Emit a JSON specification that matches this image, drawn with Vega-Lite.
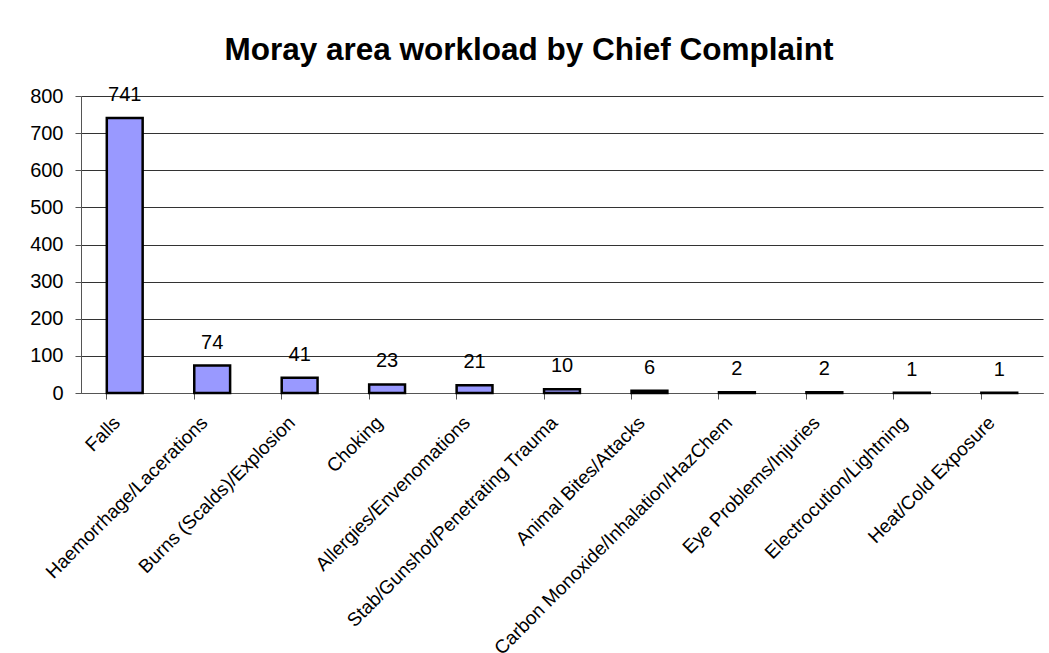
{
  "$schema": "https://vega.github.io/schema/vega-lite/v6.json",
  "width": 962,
  "height": 297,
  "autosize": {"type": "none"},
  "padding": {"left": 81, "top": 96, "right": 6, "bottom": 260},
  "background": "white",
  "title": {
    "text": "Moray area workload by Chief Complaint",
    "font": "Liberation Sans",
    "fontSize": 31.5,
    "fontWeight": "bold",
    "color": "black",
    "anchor": "middle",
    "frame": "group",
    "baseline": "alphabetic",
    "offset": 36,
    "dx": -33,
    "dy": 43
  },
  "data": {
    "values": [
      {"complaint": "Falls", "count": 741},
      {"complaint": "Haemorrhage/Lacerations", "count": 74},
      {"complaint": "Burns (Scalds)/Explosion", "count": 41},
      {"complaint": "Choking", "count": 23},
      {"complaint": "Allergies/Envenomations", "count": 21},
      {"complaint": "Stab/Gunshot/Penetrating Trauma", "count": 10},
      {"complaint": "Animal Bites/Attacks", "count": 6},
      {"complaint": "Carbon Monoxide/Inhalation/HazChem", "count": 2},
      {"complaint": "Eye Problems/Injuries", "count": 2},
      {"complaint": "Electrocution/Lightning", "count": 1},
      {"complaint": "Heat/Cold Exposure", "count": 1}
    ]
  },
  "encoding": {
    "x": {
      "field": "complaint",
      "type": "nominal",
      "sort": null,
      "scale": {"paddingInner": 0.59, "paddingOuter": 0.295},
      "axis": {
        "title": null,
        "labelAngle": -45,
        "labelAlign": "right",
        "labelBaseline": "top",
        "labelFont": "Liberation Sans",
        "labelFontSize": 19,
        "labelColor": "black",
        "labelPadding": 14,
        "labelOffset": -14,
        "labelLimit": 500,
        "bandPosition": 0,
        "tickSize": 6,
        "tickColor": "#555",
        "domainColor": "#555",
        "grid": false
      }
    },
    "y": {
      "field": "count",
      "type": "quantitative",
      "scale": {"domain": [0, 800], "nice": false},
      "axis": {
        "title": null,
        "values": [0, 100, 200, 300, 400, 500, 600, 700, 800],
        "labelFont": "Liberation Sans",
        "labelFontSize": 20,
        "labelColor": "black",
        "labelPadding": 12,
        "tickSize": 6,
        "tickColor": "#555",
        "domainColor": "#555",
        "grid": true,
        "gridColor": "#333",
        "gridOpacity": 1
      }
    }
  },
  "layer": [
    {
      "mark": {"type": "bar", "fill": "#9999FF", "stroke": "black", "strokeWidth": 2.5}
    },
    {
      "mark": {
        "type": "text",
        "font": "Liberation Sans",
        "fontSize": 20,
        "color": "black",
        "baseline": "alphabetic",
        "dy": -17
      },
      "encoding": {"text": {"field": "count", "type": "quantitative"}}
    }
  ],
  "config": {"view": {"stroke": null}}
}
